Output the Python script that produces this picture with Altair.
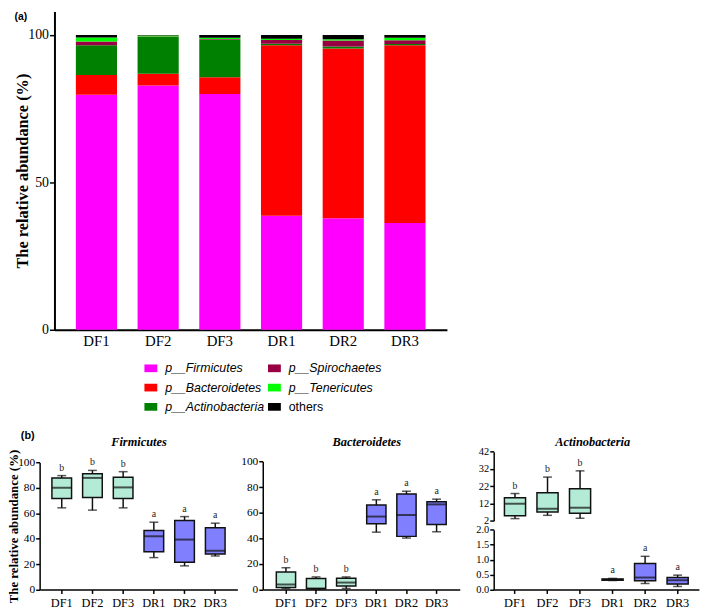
import altair as alt
import pandas as pd

W, H = 701, 603
SERIF = "Liberation Serif"
SANS = "Liberation Sans, Arial, sans-serif"

# ---------------- (a) stacked composition ----------------
samples = ["DF1", "DF2", "DF3", "DR1", "DR2", "DR3"]
groups = ["DF", "DF", "DF", "DR", "DR", "DR"]
phyla = ["p__Firmicutes", "p__Bacteroidetes", "p__Actinobacteria",
         "p__Spirochaetes", "p__Tenericutes", "others"]
phylum_colors = ["#FF00FF", "#FF0000", "#008000", "#990044", "#00FF00", "#000000"]

firmicutes_pct = [79.7, 82.9, 80.0, 38.7, 37.8, 36.2]
bacteroidetes_pct = [6.7, 4.0, 5.7, 57.8, 57.6, 60.3]
actinobacteria_pct = [10.1, 12.4, 12.8, 0.5, 0.7, 0.45]
spirochaetes_pct = [1.3, 0.2, 0.15, 1.3, 2.0, 1.3]
tenericutes_pct = [1.4, 0.3, 0.45, 0.45, 0.45, 0.8]
others_pct = [0.8, 0.2, 0.9, 1.25, 1.45, 0.95]

legend_col = [0, 0, 0, 1, 1, 1]
legend_row = [0, 1, 2, 0, 1, 2]

# ---------------- (b) box plot summaries ----------------
# min, q1, median, q3, max per sample
fir_min = [64.3, 62.5, 64.3, 25.1, 18.6, 26.4]
fir_q1 = [71.6, 72.4, 71.6, 29.7, 21.4, 27.9]
fir_med = [80.1, 87.9, 80.4, 41.9, 39.3, 30.5]
fir_q3 = [87.9, 91.2, 88.4, 46.5, 54.3, 48.6]
fir_max = [89.7, 93.8, 92.8, 53.0, 57.4, 52.2]

bac_min = [0.8, 0.3, 0.8, 44.8, 40.2, 45.1]
bac_q1 = [1.5, 0.5, 2.8, 51.3, 41.5, 50.8]
bac_med = [3.9, 0.8, 5.4, 57.0, 58.2, 66.5]
bac_q3 = [13.7, 8.5, 8.8, 66.0, 74.7, 68.6]
bac_max = [17.0, 9.8, 9.8, 70.1, 76.8, 70.6]

act_min = [3.3, 5.2, 3.5, 0.30, 0.20, 0.10]
act_q1 = [4.9, 7.1, 6.4, 0.31, 0.29, 0.18]
act_med = [11.9, 9.0, 9.6, 0.33, 0.40, 0.31]
act_q3 = [15.3, 18.2, 20.6, 0.35, 0.87, 0.40]
act_max = [17.8, 27.3, 30.9, 0.37, 1.11, 0.48]

sig_letters = ["b", "b", "b", "a", "a", "a"]
panel_titles = ["Firmicutes", "Bacteroidetes", "Actinobacteria"]
DF_FILL = "#B3EBD6"
DR_FILL = "#8080FF"

# ---------------- tables ----------------
series = [firmicutes_pct, bacteroidetes_pct, actinobacteria_pct,
          spirochaetes_pct, tenericutes_pct, others_pct]
top_rows = []
for i, s in enumerate(samples):
    for j, p in enumerate(phyla):
        top_rows.append({"sample": s, "phylum": p, "order": j, "value": series[j][i]})
top_df = pd.DataFrame(top_rows)
leg_df = pd.DataFrame({"phylum": phyla, "col": legend_col, "row": legend_row})


def box_df(mn, q1, md, q3, mx):
    return pd.DataFrame({"sample": samples, "group": groups, "lo": mn, "q1": q1,
                         "med": md, "q3": q3, "hi": mx, "letter": sig_letters})


fir_df = box_df(fir_min, fir_q1, fir_med, fir_q3, fir_max)
bac_df = box_df(bac_min, bac_q1, bac_med, bac_q3, bac_max)
act_df = box_df(act_min, act_q1, act_med, act_q3, act_max)

color_scale = alt.Scale(domain=phyla, range=phylum_colors)

# ---------------- (a) chart ----------------
top_x = alt.X("sample:N", sort=samples,
              scale=alt.Scale(domain=samples, range=[47, 444], paddingInner=0.333, paddingOuter=0.347),
              axis=alt.Axis(orient="bottom", offset=322 - H, title=None, labelAngle=0,
                            labelFont=SERIF, labelFontSize=15, labelColor="black",
                            ticks=False, labelPadding=4, domainColor="black", domainWidth=2,
                            grid=False))
top_y = alt.Y("value:Q", stack="zero",
              scale=alt.Scale(domain=[0, 108], range=[322, 0], nice=False),
              axis=alt.Axis(orient="left", offset=-47, values=[0, 50, 100],
                            title="The relative abundance (%)", titleFont=SERIF,
                            titleFontSize=16.5, titleFontWeight="bold", titleColor="black",
                            titlePadding=-3, labelFont=SERIF, labelFontSize=14,
                            labelColor="black", tickSize=5, tickColor="black", tickWidth=1.5,
                            domainColor="black", domainWidth=2, labelPadding=1, grid=False))
top_bars = alt.Chart(top_df).mark_bar().encode(
    x=top_x, y=top_y,
    color=alt.Color("phylum:N", scale=color_scale, legend=None),
    order=alt.Order("order:Q"),
)

leg_x = alt.X("col:Q", scale=alt.Scale(domain=[0, 1], range=[144.5, 269.5], nice=False), axis=None)
leg_y = alt.Y("row:Q", scale=alt.Scale(domain=[0, 2], range=[361, 400], nice=False), axis=None)
leg_sw = alt.Chart(leg_df).mark_point(shape="M-1,-0.6H1V0.6H-1Z", size=169, filled=True,
                                      opacity=1).encode(
    x=leg_x, y=leg_y, color=alt.Color("phylum:N", scale=color_scale, legend=None))
leg_it = alt.Chart(leg_df).transform_filter("datum.phylum !== 'others'").mark_text(
    align="left", baseline="middle", dx=14.5, font=SANS, fontSize=12.5, fontStyle="italic",
    color="black").encode(x=leg_x, y=leg_y, text="phylum:N")
leg_no = alt.Chart(leg_df).transform_filter("datum.phylum === 'others'").mark_text(
    align="left", baseline="middle", dx=14.5, font=SANS, fontSize=12.5,
    color="black").encode(x=leg_x, y=leg_y, text="phylum:N")
legend = alt.layer(leg_sw, leg_it, leg_no)


# ---------------- (b) panels ----------------
def x_axis():
    return alt.Axis(orient="bottom", offset=584.7 - H, title=None, labelAngle=0,
                    labelFont=SERIF, labelFontSize=12.5, labelColor="black",
                    tickSize=4, tickColor="black", tickWidth=1.5, labelPadding=3,
                    domainColor="black", domainWidth=1.5, grid=False)


def y_axis(xpos, values, fmt, title=None, size=11.5):
    if title:
        kw = dict(title=title, titleFont=SERIF, titleFontSize=13, titleFontWeight="bold",
                  titleColor="black", titlePadding=-2.5)
    else:
        kw = dict(title=None)
    return alt.Axis(orient="left", offset=-xpos, values=values, format=fmt,
                    labelFont=SERIF, labelFontSize=size, labelColor="black",
                    tickSize=4, tickColor="black", tickWidth=1.5, labelPadding=1,
                    domainColor="black", domainWidth=1.5, grid=False, **kw)


def box_panel(data, xrange, pin, pout, ydom, yrng, xax, yax, boxw):
    xs = alt.Scale(domain=samples, range=xrange, paddingInner=pin, paddingOuter=pout)
    ys = alt.Scale(domain=ydom, range=yrng, nice=False, zero=False)

    def X():
        return alt.X("sample:N", sort=samples, scale=xs, axis=xax)

    def Y(f):
        return alt.Y(f + ":Q", scale=ys, axis=yax)

    base = alt.Chart(data)
    fill = alt.condition("datum.group === 'DF'", alt.value(DF_FILL), alt.value(DR_FILL))
    whisk = base.mark_rule(color="#111111", strokeWidth=1.5).encode(x=X(), y=Y("lo"), y2="hi:Q")
    cap_lo = base.mark_tick(color="#111111", size=9, thickness=1.5).encode(x=X(), y=Y("lo"))
    cap_hi = base.mark_tick(color="#111111", size=9, thickness=1.5).encode(x=X(), y=Y("hi"))
    box = base.mark_bar(stroke="#111111", strokeWidth=1.5).encode(
        x=X(), y=Y("q1"), y2="q3:Q", fill=fill)
    med = base.mark_tick(color="#111111", size=boxw, thickness=2).encode(x=X(), y=Y("med"))
    let = base.mark_text(baseline="bottom", dy=-3, font=SERIF, fontSize=10,
                         color="#222222").encode(x=X(), y=Y("hi"), text="letter:N")
    return alt.layer(whisk, cap_lo, cap_hi, box, med, let)


p1 = box_panel(fir_df, [32, 232], 0.36, 0.4, [0, 100], [584.7, 456.3], x_axis(),
               y_axis(32, [0, 20, 40, 60, 80, 100], "d", "The relative abundance (%)"), 20)
p2 = box_panel(bac_df, [257.7, 457], 0.36, 0.45, [0, 100], [584.7, 455.3], x_axis(),
               y_axis(257.7, [0, 20, 40, 60, 80, 100], "d"), 20)
act_df_hi = act_df[act_df["group"] == "DF"]
act_df_lo = act_df[act_df["group"] == "DR"]
p3a = box_panel(act_df_hi, [491.3, 698.9], 0.35, 0.33, [2, 42], [515.3, 445.3], None,
                y_axis(491.3, [2, 12, 22, 32, 42], "d", size=10.5), 21.5)
p3b = box_panel(act_df_lo, [491.3, 698.9], 0.35, 0.33, [0, 2], [584.7, 524.3], x_axis(),
                y_axis(491.3, [0, 0.5, 1.0, 1.5, 2.0], ".1f", size=10.5), 21.5)


def label(txt, x, y, **kw):
    return alt.Chart(pd.DataFrame({"t": [txt]})).mark_text(**kw).encode(
        text="t:N", x=alt.value(x), y=alt.value(y))


lab_a = label("(a)", 13, 1, font=SANS, fontSize=10.5, fontWeight="bold", color="black",
              baseline="top")
lab_b = label("(b)", 20, 429.5, font=SANS, fontSize=11, fontWeight="bold", color="black",
              baseline="middle")
t1 = label(panel_titles[0], 132.5, 436, font=SERIF, fontSize=12.5, fontWeight="bold",
           fontStyle="italic", color="black", baseline="middle")
t2 = label(panel_titles[1], 363, 436, font=SERIF, fontSize=12.5, fontWeight="bold",
           fontStyle="italic", color="black", baseline="middle")
t3 = label(panel_titles[2], 591.5, 436, font=SERIF, fontSize=12.5, fontWeight="bold",
           fontStyle="italic", color="black", baseline="middle")

chart = alt.layer(top_bars, legend, p1, p2, p3a, p3b, lab_a, lab_b, t1, t2, t3).resolve_scale(
    x="independent", y="independent"
).properties(
    width=W, height=H, padding=0, autosize=alt.AutoSizeParams(type="none")
).configure_view(stroke=None)

chart.save("out.html", embed_options={"renderer": "svg", "actions": False})
